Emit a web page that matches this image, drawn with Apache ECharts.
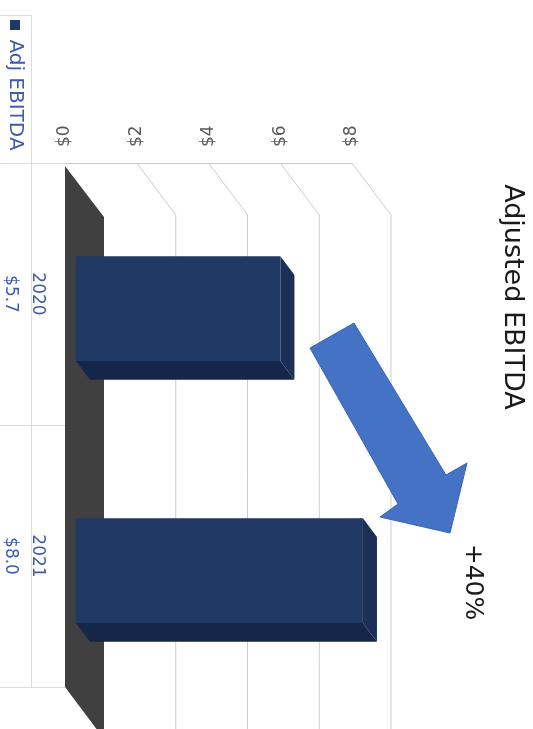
<!DOCTYPE html>
<html>
<head>
<meta charset="utf-8">
<script src="https://cdn.jsdelivr.net/npm/echarts@6/dist/echarts.min.js"></script>
<style>
html,body{margin:0;padding:0;background:#fff;}
#chart{width:533px;height:729px;}
</style>
</head>
<body>
<div id="chart"></div>
<script>
// ---- data ----
var categories = ['2020', '2021'];
var seriesName = 'Adj EBITDA';
var values = [5.7, 8.0];
var tickValues = [0, 2, 4, 6, 8];
var titleText = 'Adjusted EBITDA';
var changeText = '+40%';

// ---- style constants ----
var DX = 39, DY = 52;          // depth vector of the 3D box
var F0 = 0.28, F1 = 0.64;      // bar depth range (fraction of depth)
var FONT = 'DejaVu Sans';

var chart = echarts.init(document.getElementById('chart'), null, {renderer: 'canvas'});

function gridRender(params, api) {
  var v = api.value(0);
  var p = api.coord([v, 0]);
  var cs = params.coordSys;
  var top = cs.y, bottom = cs.y + cs.height;
  var x = p[0];
  if (v === 0) {
    return {
      type: 'polygon',
      shape: {points: [[x, top + 3], [x + DX, top + DY + 2], [x + DX, bottom + DY], [x, bottom]]},
      style: {fill: '#404040'}
    };
  }
  return {
    type: 'polyline',
    shape: {points: [[x, top], [x + DX, top + DY], [x + DX, bottom + DY + 20]]},
    style: {stroke: '#cccccc', lineWidth: 1, fill: null}
  };
}

function barRender(params, api) {
  var v = api.value(0);
  var c = api.value(1);
  var p0 = api.coord([0, c]);
  var p1 = api.coord([v, c]);
  var band = api.size([0, 1])[1];
  var half = band * 0.2;
  var ox = DX * F0, oy = DY * F0;
  var ex = DX * (F1 - F0), ey = DY * (F1 - F0);
  var xl = p0[0] + ox, xr = p1[0] + ox;
  var yt = p0[1] + oy - half, yb = p0[1] + oy + half;
  return {
    type: 'group',
    children: [
      {type: 'polygon', shape: {points: [[xl, yb], [xr, yb], [xr + ex, yb + ey], [xl + ex, yb + ey]]},
       style: {fill: '#15264a'}},
      {type: 'polygon', shape: {points: [[xr, yt], [xr + ex, yt + ey], [xr + ex, yb + ey], [xr, yb]]},
       style: {fill: '#1b2f58'}},
      {type: 'rect', shape: {x: xl, y: yt, width: xr - xl, height: yb - yt},
       style: {fill: '#203864'}}
    ]
  };
}

var option = {
  backgroundColor: '#ffffff',
  animation: false,
  textStyle: {fontFamily: FONT},
  grid: {left: 65, right: 181, top: 163, bottom: 42, containLabel: false},
  xAxis: {
    type: 'value', position: 'top', min: 0, max: 8, interval: 2,
    axisLine: {show: true, lineStyle: {color: '#cccccc', width: 1}},
    axisTick: {show: false},
    splitLine: {show: false},
    axisLabel: {rotate: -90, margin: 16, color: '#595959', fontSize: 17, fontFamily: FONT,
      formatter: function (v) { return '$' + v; }}
  },
  yAxis: [
    {
      type: 'category', data: categories, inverse: true, position: 'left',
      axisLine: {show: false},
      axisTick: {show: true, length: 65, lineStyle: {color: '#d6dce8', width: 1}},
      splitLine: {show: false},
      axisLabel: {rotate: -90, margin: 19, color: '#3f5ba9', fontSize: 17, fontFamily: FONT}
    },
    {
      type: 'category', data: categories, inverse: true, position: 'left', offset: 34,
      axisLine: {show: true, lineStyle: {color: '#d6dce8', width: 1}},
      axisTick: {show: false},
      splitLine: {show: false},
      axisLabel: {rotate: -90, margin: 12, color: '#3f5ba9', fontSize: 17, fontFamily: FONT,
        formatter: function (v, i) { return '$' + values[i].toFixed(1); }}
    }
  ],
  series: [
    {
      type: 'custom', name: 'grid3d', z: 1, silent: true,
      renderItem: gridRender,
      encode: {x: 0},
      data: tickValues.map(function (t) { return [t]; })
    },
    {
      type: 'custom', name: seriesName, z: 3,
      renderItem: barRender,
      encode: {x: 0, y: 1},
      data: values.map(function (v, i) { return [v, i]; })
    }
  ],
  graphic: [
    {type: 'text', x: 512, y: 297, rotation: -Math.PI / 2, z: 10,
     style: {text: titleText, fill: '#1a1a1a', font: '27px "DejaVu Sans"', textAlign: 'center', textVerticalAlign: 'middle'}},
    {type: 'text', x: 472, y: 582, rotation: -Math.PI / 2, z: 10,
     style: {text: changeText, fill: '#1a1a1a', font: '25px "DejaVu Sans"', textAlign: 'center', textVerticalAlign: 'middle'}},
    {type: 'polygon', z: 9,
     shape: {points: [[310, 348], [354, 323], [446, 475], [467, 463], [450, 533], [380, 517], [398, 504]]},
     style: {fill: '#4472c4', stroke: '#3b64b0', lineWidth: 1}},
    {type: 'rect', z: 10, shape: {x: 10, y: 20, width: 10, height: 10}, style: {fill: '#1f3864'}},
    {type: 'text', x: 15, y: 95, rotation: -Math.PI / 2, z: 10,
     style: {text: seriesName, fill: '#3f5ba9', font: '20px "DejaVu Sans"', textAlign: 'center', textVerticalAlign: 'middle'}},
    {type: 'line', z: 5, shape: {x1: 0, y1: 15.5, x2: 31, y2: 15.5}, style: {stroke: '#d6dce8', lineWidth: 1}},
    {type: 'line', z: 5, shape: {x1: 31.5, y1: 15, x2: 31.5, y2: 163}, style: {stroke: '#d6dce8', lineWidth: 1}}
  ]
};
chart.setOption(option);
</script>
</body>
</html>
